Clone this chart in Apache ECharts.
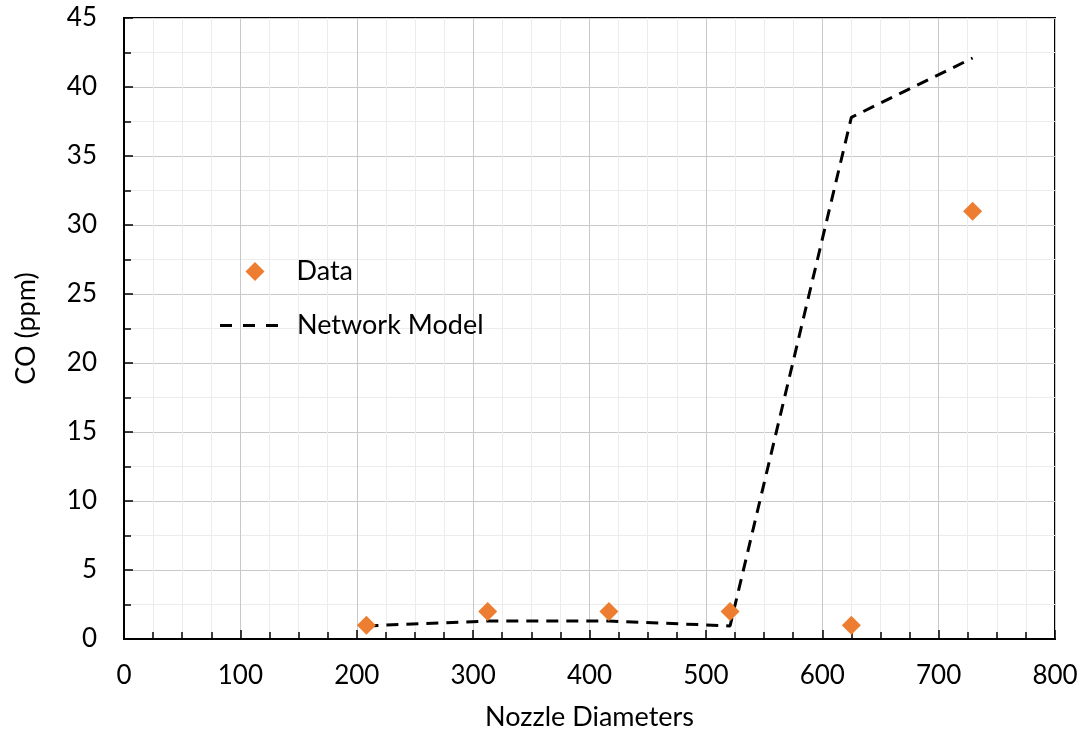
<!DOCTYPE html>
<html><head><meta charset="utf-8">
<script src="https://cdn.jsdelivr.net/npm/echarts@6/dist/echarts.min.js"></script>
<style>html,body{margin:0;padding:0;background:#fff}#c{width:1084px;height:740px}</style>
</head><body><div id="c"></div>
<script>
const nozzleDiameters = [208.3, 312.5, 416.7, 520.8, 625, 729.2];
const dataCO = [1, 2, 2, 2, 1, 31];
const modelCO = [0.95, 1.3, 1.3, 0.95, 37.8, 42.1];
const xTicks = {min: 0, max: 800, interval: 100};
const yTicks = {min: 0, max: 45, interval: 5};

const FONT = 'Lato';
const chart = echarts.init(document.getElementById('c'), null, {renderer: 'canvas'});
chart.setOption({
  animation: false,
  backgroundColor: '#fff',
  textStyle: {fontFamily: FONT},
  grid: {left: 124, right: 29, top: 18, bottom: 101, show: true, borderColor: '#000', borderWidth: 2, backgroundColor: 'transparent'},
  legend: [
    {
      orient: 'vertical', left: 245.5, top: 258, padding: 0, itemWidth: 19, itemHeight: 19,
      textStyle: {fontFamily: FONT, fontSize: 27, color: '#000', padding: [0,0,0,27]},
      data: [{name: 'Data', icon: 'diamond', itemStyle: {color: '#ED7D31', opacity: 1}}]
    },
    {
      orient: 'vertical', left: 220, top: 312, padding: 0, itemWidth: 58, itemHeight: 3,
      textStyle: {fontFamily: FONT, fontSize: 27, color: '#000', padding: [0,0,0,14]},
      data: [{name: 'Network Model', icon: 'path://M0,0h12v3H0z M23,0h12v3H23z M46,0h12v3H46z', itemStyle: {color: '#000'}}]
    }
  ],
  xAxis: {
    type: 'value', min: xTicks.min, max: xTicks.max, interval: xTicks.interval,
    name: 'Nozzle Diameters', nameLocation: 'middle', nameGap: 65,
    nameTextStyle: {fontFamily: FONT, fontSize: 27, color: '#000'},
    axisLine: {show: true, onZero: false, lineStyle: {color: '#000', width: 2}},
    axisTick: {show: true, inside: true, length: 9, lineStyle: {color: '#000', width: 1.5}},
    minorTick: {show: true, splitNumber: 4, length: 7, lineStyle: {color: '#000', width: 1.5}},
    axisLabel: {fontFamily: FONT, fontSize: 26, color: '#000', margin: 24},
    splitLine: {show: true, lineStyle: {color: '#c8c8c8', width: 1}},
    minorSplitLine: {show: true, lineStyle: {color: '#ececec', width: 1}}
  },
  yAxis: {
    type: 'value', min: yTicks.min, max: yTicks.max, interval: yTicks.interval,
    name: 'CO (ppm)', nameLocation: 'middle', nameGap: 84, nameRotate: 90,
    nameTextStyle: {fontFamily: FONT, fontSize: 27, color: '#000'},
    axisLine: {show: true, onZero: false, lineStyle: {color: '#000', width: 2}},
    axisTick: {show: true, inside: true, length: 9, lineStyle: {color: '#000', width: 1.5}},
    minorTick: {show: true, splitNumber: 2, length: 7, lineStyle: {color: '#000', width: 1.5}},
    axisLabel: {fontFamily: FONT, fontSize: 26, color: '#000', margin: 27},
    splitLine: {show: true, lineStyle: {color: '#c8c8c8', width: 1}},
    minorSplitLine: {show: true, lineStyle: {color: '#ececec', width: 1}}
  },
  series: [
    {
      name: 'Data', type: 'scatter', symbol: 'diamond', symbolSize: 19,
      itemStyle: {color: '#ED7D31', opacity: 1}, z: 3,
      data: nozzleDiameters.map((x, i) => [x, dataCO[i]])
    },
    {
      name: 'Network Model', type: 'line', symbol: 'none', showSymbol: false,
      lineStyle: {color: '#000', width: 3, type: [12, 8]},
      itemStyle: {color: '#000'},
      data: nozzleDiameters.map((x, i) => [x, modelCO[i]])
    }
  ]
});
</script></body></html>
